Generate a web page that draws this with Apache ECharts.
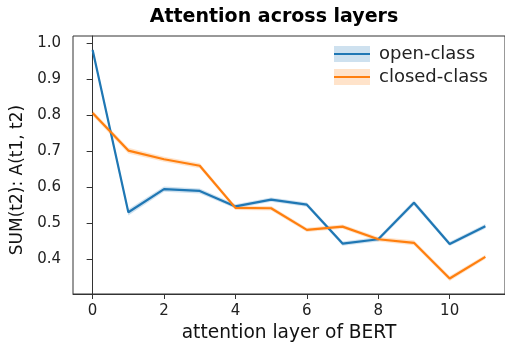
<!DOCTYPE html>
<html><head><meta charset="utf-8">
<script src="https://cdn.jsdelivr.net/npm/echarts@6/dist/echarts.min.js"></script>
<style>html,body{margin:0;padding:0;background:#fff}#c{width:505px;height:350px}</style>
</head><body><div id="c"></div>
<script>
const layers = [0,1,2,3,4,5,6,7,8,9,10,11];
const openVals  = [0.980,0.530,0.594,0.589,0.546,0.565,0.551,0.443,0.455,0.556,0.442,0.491];
const openLo    = [0.972,0.521,0.587,0.582,0.540,0.559,0.545,0.437,0.449,0.549,0.436,0.485];
const openHi    = [0.988,0.538,0.601,0.596,0.552,0.571,0.557,0.449,0.461,0.563,0.448,0.497];
const closedVals= [0.805,0.701,0.677,0.659,0.542,0.541,0.481,0.490,0.455,0.445,0.346,0.406];
const closedLo  = [0.798,0.693,0.670,0.652,0.536,0.535,0.475,0.484,0.449,0.438,0.339,0.400];
const closedHi  = [0.812,0.709,0.684,0.666,0.548,0.547,0.487,0.496,0.461,0.452,0.353,0.412];
const xTicks = [0,2,4,6,8,10];
const yTicks = [0.4,0.5,0.6,0.7,0.8,0.9,1.0];

const BLUE='#1f77b4', ORANGE='#ff7f0e';
const BLUE_BAND='rgba(31,119,180,0.22)', ORANGE_BAND='rgba(255,127,14,0.22)';
const FONT='DejaVu Sans';
const pairs = (ys) => layers.map((x,i)=>[x, ys[i]]);

function lineSeries(name, vals, color){
  return {name, type:'line', data:pairs(vals), symbol:'none', z:5,
    lineStyle:{color, width:2.2}, itemStyle:{color}, silent:true};
}
function bandSeries(name, lo, hi, fill){
  return {name, type:'custom', z:2, silent:true, clip:true,
    itemStyle:{color:fill},
    data: layers.map((x,i)=>[x, lo[i], hi[i]]),
    renderItem: function(params, api){
      if (params.dataIndex !== 0) return null;
      const top = layers.map((x,i)=>api.coord([x, hi[i]]));
      const bot = layers.map((x,i)=>api.coord([x, lo[i]])).reverse();
      return {type:'polygon', shape:{points: top.concat(bot)}, style:{fill, stroke:null}};
    }};
}

const legendCommon = {
  orient:'vertical', left:329, top:37.5, itemWidth:36, itemGap:0,
  textStyle:{fontFamily:FONT, fontSize:18, color:'#222', lineHeight:23,
    rich:{a:{fontFamily:FONT, fontSize:18, lineHeight:23, padding:[0,0,0,4]}}},
  selectedMode:false
};

const chart = echarts.init(document.getElementById('c'), null, {renderer:'canvas'});
chart.setOption({
  animation:false,
  backgroundColor:'#fff',
  title:{text:'Attention across layers', left:269, top:3, textAlign:'center',
    textStyle:{fontFamily:FONT, fontSize:19, fontWeight:'bold', color:'#000'}},
  legend:[
    Object.assign({}, legendCommon, {z:3, itemHeight:16,
      data:[{name:'open-band', icon:'rect', itemStyle:{color:BLUE_BAND}},
            {name:'closed-band', icon:'rect', itemStyle:{color:ORANGE_BAND}}],
      formatter:(n)=> '{a|' + (n==='open-band' ? 'open-class' : 'closed-class') + '}',
      textStyle:{fontFamily:FONT, fontSize:18, lineHeight:23, color:'rgba(0,0,0,0)',
        rich:{a:{fontFamily:FONT, fontSize:18, lineHeight:23, color:'rgba(0,0,0,0)', padding:[0,0,0,4]}}}}),
    Object.assign({}, legendCommon, {z:4, itemHeight:2.2,
      formatter:(n)=> '{a|' + n + '}',
      data:[{name:'open-class', icon:'rect', itemStyle:{color:BLUE}},
            {name:'closed-class', icon:'rect', itemStyle:{color:ORANGE}}]})
  ],
  grid:{left:73, right:0, top:36, bottom:56, show:true, borderColor:'#333', borderWidth:1, backgroundColor:'transparent'},
  xAxis:{type:'value', min:-0.55, max:11.55,
    name:'attention layer of BERT', nameLocation:'middle', nameGap:27,
    nameTextStyle:{fontFamily:FONT, fontSize:18.6, color:'#111'},
    axisLine:{show:true, lineStyle:{color:'#333', width:1}},
    axisTick:{show:true, length:5, lineStyle:{color:'#333'}, customValues:xTicks},
    axisLabel:{fontFamily:FONT, fontSize:15, color:'#222', margin:10, customValues:xTicks},
    splitLine:{show:false}},
  yAxis:{type:'value', min:0.303, max:1.019,
    name:'SUM(t2): A(t1, t2)', nameLocation:'middle', nameGap:40, nameRotate:90,
    nameTextStyle:{fontFamily:FONT, fontSize:17, color:'#111', padding:[0,30,0,0]},
    axisLine:{show:true, lineStyle:{color:'#333', width:1}},
    axisTick:{show:true, length:6, lineStyle:{color:'#333'}, customValues:yTicks},
    axisLabel:{fontFamily:FONT, fontSize:15, color:'#222', margin:12, customValues:yTicks,
      formatter:(v)=>v.toFixed(1)},
    splitLine:{show:false}},
  series:[
    bandSeries('open-band', openLo, openHi, BLUE_BAND),
    bandSeries('closed-band', closedLo, closedHi, ORANGE_BAND),
    lineSeries('open-class', openVals, BLUE),
    lineSeries('closed-class', closedVals, ORANGE)
  ]
});
</script></body></html>
